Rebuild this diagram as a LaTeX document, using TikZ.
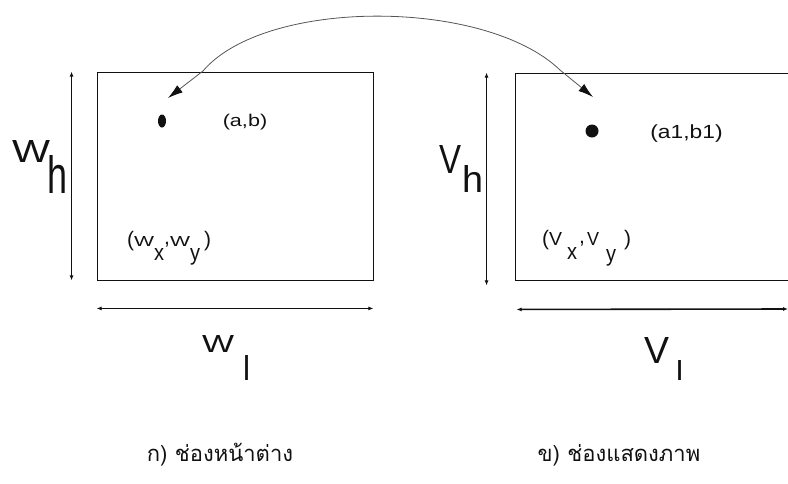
\documentclass[tikz,border=0pt]{standalone}
\usepackage{fontspec}
\usepackage{graphicx}
\setmainfont{Liberation Sans}
\newfontfamily\thaifont[Script=Thai]{Loma}
\usetikzlibrary{positioning,calc,arrows.meta,shapes.geometric}
\definecolor{ink}{HTML}{111111}
\definecolor{graphite}{HTML}{555555}
\newcommand{\gl}[3]{\resizebox{#1pt}{#2pt}{#3}}

\begin{document}
\begin{tikzpicture}[x=1pt,y=-1pt,
        area/.style={draw=ink,line width=0.9pt,inner sep=0pt},
        dim/.style={ink,line width=1.6pt,{Latex[length=5pt,width=4pt]}-{Latex[length=5pt,width=4pt]}},
        maparc/.style={graphite,line width=0.8pt,{Latex[length=15pt,width=9pt,color=ink]}-{Latex[length=15pt,width=9pt,color=ink]}},
        lab/.style={anchor=base west,inner sep=0pt,text=ink,font=\fontsize{21}{21}\selectfont},
        subcap/.style={text=ink,font=\thaifont\fontsize{22}{22}\selectfont}]
        \useasboundingbox (0,0) rectangle (788,483);
        \clip (0,0) rectangle (788,483);
        \node[area,minimum width=276pt,minimum height=208pt] (win) at (235,176) {};
        \node[area,minimum width=285pt,minimum height=207pt] (view) at (657.5,176.5) {};
        \node[ellipse,fill=ink,inner sep=0pt,minimum width=8pt,minimum height=13pt] (wdot) at (162,121) {};
        \node[circle,fill=ink,inner sep=0pt,minimum size=13pt] (vdot) at (592,131) {};
        \node[text=ink,font=\fontsize{17}{17}\selectfont] (ab) at (245,122.5) {\scalebox{1.27}[1]{(a,b)}};
        \node[text=ink,font=\fontsize{19}{19}\selectfont] (a1b1) at (686.5,134) {\scalebox{1.2}[1]{(a1,b1)}};
        \node[lab] (wxy) at (127,246)
          {(\gl{20}{10}{W}\raisebox{-14pt}{\gl{10}{12}{x}}\raisebox{2pt}{,}\gl{20}{10}{W}\raisebox{-14pt}{\gl{10}{12}{y}}\kern4pt)};
        \node[lab] (vxy) at (542,245)
          {(\gl{13}{13}{V}\kern5pt\raisebox{-14pt}{\gl{10}{12}{x}}\kern2pt\raisebox{2pt}{,}\kern2pt\gl{12}{13}{V}\kern7pt\raisebox{-16pt}{\gl{10}{12}{y}}\kern8pt)};
        \node[lab] (wh) at (12,162)
          {\gl{38}{22}{W}\kern-3pt\raisebox{-31pt}{\gl{20}{38}{h}}};
        \node[lab] (vh) at (439,173)
          {\gl{22}{28}{V}\kern1pt\raisebox{-19pt}{\gl{21}{27}{h}}};
        \node[lab] (wl) at (202,352)
          {\gl{32}{17}{W}\kern9pt\raisebox{-28pt}{\gl{7}{25}{l}}};
        \node[lab] (vl) at (644,363)
          {\gl{25}{26}{V}\kern7pt\raisebox{-17pt}{\gl{7}{20}{l}}};
        \node[subcap] (capw) at (220,455) {ก) ช่องหน้าต่าง};
        \node[subcap] (capv) at (619,455) {ข) ช่องแสดงภาพ};
        \coordinate (wtip) at (168,98);
        \coordinate (wbend) at (203,71);
        \coordinate (vbend) at (560,70);
        \coordinate (vtip) at (593,97);
        \coordinate (vend) at (788,309);
        \draw[maparc] (wtip) -- (wbend) .. controls (265,-2) and (485,-2) .. (vbend) -- (vtip);
        \draw[dim] ([xshift=-25pt]win.north west) -- ([xshift=-25pt]win.south west);
        \draw[dim] ([yshift=-28pt]win.south west) -- ([yshift=-28pt]win.south east);
        \draw[dim] ([xshift=-28pt]view.north west) -- ([xshift=-28pt,yshift=-5pt]view.south west);
        \draw[dim] ([yshift=-29pt,xshift=2pt]view.south west) -- (vend);
      \end{tikzpicture}
\end{document}
